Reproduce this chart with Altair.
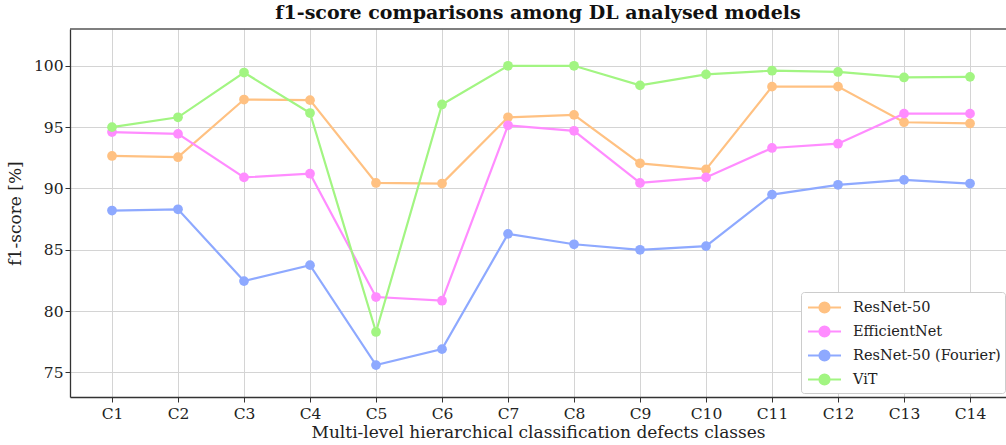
import altair as alt
import pandas as pd

classes = [f"C{i}" for i in range(1, 15)]
class_idx = list(range(1, 15))

models = ["ResNet-50", "EfficientNet", "ResNet-50 (Fourier)", "ViT"]
colors = ["#ffc182", "#ff8cff", "#8ea9ff", "#a2f582"]

resnet50 = [92.65, 92.55, 97.25, 97.2, 90.45, 90.4, 95.8, 96.0, 92.05, 91.55, 98.3, 98.3, 95.4, 95.3]
efficientnet = [94.6, 94.45, 90.9, 91.2, 81.15, 80.85, 95.15, 94.7, 90.45, 90.9, 93.3, 93.65, 96.1, 96.1]
resnet50_fourier = [88.2, 88.3, 82.45, 83.75, 75.6, 76.9, 86.3, 85.45, 85.0, 85.3, 89.5, 90.3, 90.7, 90.4]
vit = [95.0, 95.8, 99.45, 96.15, 78.3, 96.85, 100.0, 100.0, 98.4, 99.3, 99.6, 99.5, 99.05, 99.1]

series = [resnet50, efficientnet, resnet50_fourier, vit]

rows = []
for name, vals in zip(models, series):
    for i, c, v in zip(class_idx, classes, vals):
        rows.append({"idx": i, "cls": c, "model": name, "f1": v})
df = pd.DataFrame(rows)

FONT = "DejaVu Serif"
W, H = 936, 368

x = alt.X(
    "idx:Q",
    scale=alt.Scale(domain=[0.3636, 14.545], nice=False, zero=False),
    axis=alt.Axis(
        values=class_idx,
        labelExpr="'C' + datum.value",
        title="Multi-level hierarchical classification defects classes",
        titlePadding=3,
        labelPadding=4,
    ),
)
y = alt.Y(
    "f1:Q",
    scale=alt.Scale(domain=[73, 103], nice=False, zero=False),
    axis=alt.Axis(values=[75, 80, 85, 90, 95, 100], title="f1-score [%]", titlePadding=9),
)
color = alt.Color(
    "model:N",
    scale=alt.Scale(domain=models, range=colors),
    sort=models,
    legend=alt.Legend(
        title=None,
        orient="none",
        legendX=731,
        legendY=263,
        symbolType="M-1.65,0 L1.65,0 M0.5,0 A0.5,0.5 0 1,1 -0.5,0 A0.5,0.5 0 1,1 0.5,0 Z",
        symbolSize=400,
        symbolStrokeWidth=2.2,
        symbolOffset=8,
        labelOffset=17,
        rowPadding=3,
        labelFontSize=14.5,
        labelFont=FONT,
        labelColor="#222",
        fillColor="white",
        strokeColor="#cccccc",
        cornerRadius=3,
        padding=4,
    ),
)

lines = alt.Chart(df).mark_line(strokeWidth=2.2, point=alt.OverlayMarkDef(filled=True, size=95, opacity=1)).encode(
    x=x, y=y, color=color, detail="model:N"
)

top_spine = alt.Chart(pd.DataFrame({"a": [0]})).mark_rule(color="#555555", strokeWidth=1.5).encode(
    x=alt.value(0), x2=alt.value(W), y=alt.value(0)
)

chart = (
    alt.layer(lines, top_spine)
    .properties(
        width=W,
        height=H,
        title=alt.Title("f1-score comparisons among DL analysed models", font=FONT, fontSize=19, fontWeight="bold", color="#111", offset=5),
        autosize=alt.AutoSizeParams(type="none"),
        padding={"left": 70, "top": 29, "right": 0, "bottom": 48},
    )
    .configure_view(stroke=None)
    .configure_axis(
        labelFont=FONT,
        titleFont=FONT,
        labelFontSize=15.5,
        titleFontSize=17,
        titleFontWeight="normal",
        labelColor="#222",
        titleColor="#222",
        grid=True,
        gridColor="#d4d4d4",
        gridWidth=1,
        domainColor="#333",
        domainWidth=1.3,
        tickColor="#333",
        tickSize=5,
    )
)

chart.save("out.html", embed_options={"renderer": "svg", "actions": False})
